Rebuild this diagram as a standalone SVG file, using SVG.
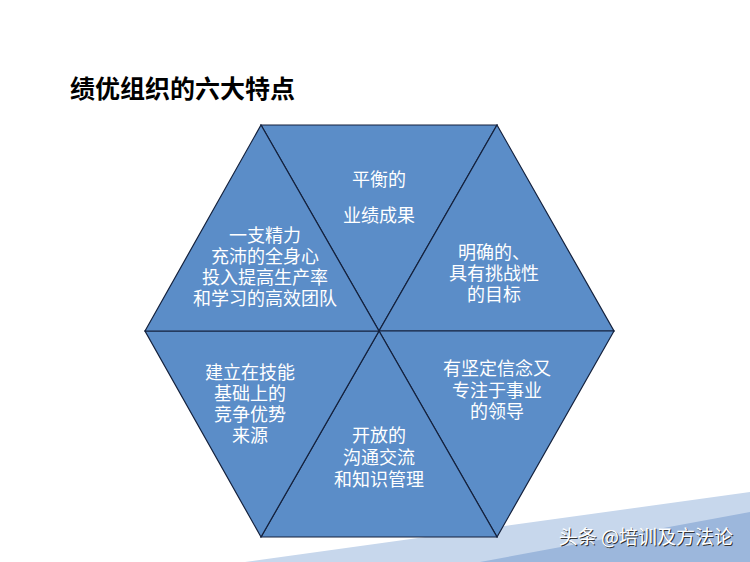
<svg xmlns="http://www.w3.org/2000/svg" width="750" height="562" viewBox="0 0 750 562">
<style>
.seg{fill:#5b8dc8;stroke:#14213d;stroke-width:1.2;stroke-linejoin:miter}
.lbl{font-family:"Microsoft YaHei","Noto Sans CJK SC","Noto Sans",sans-serif;font-size:18px;fill:#ffffff;text-anchor:middle}
.title{font-family:"Noto Sans CJK SC","Noto Sans",sans-serif;font-size:25px;font-weight:bold;fill:#000000}
.wm{font-family:"Noto Sans CJK SC","Noto Sans",sans-serif;font-size:19px;text-anchor:end}
</style>
<rect width="750" height="562" fill="#ffffff"/>
<g id="background-bands">
<polygon points="245,562 750,492 750,562" fill="#c7d7ec"/>
<polygon points="480,562 750,512 750,562" fill="#9cb7dc"/>
</g>
<text class="title" x="70" y="98">绩优组织的六大特点</text>
<g id="connectors"></g>
<g id="node-top">
<polygon class="seg" points="261,125 497,125 379,331"/>
<text class="lbl" x="379" y="186">平衡的</text>
<text class="lbl" x="379" y="222">业绩成果</text>
</g>
<g id="node-upper-right">
<polygon class="seg" points="497,125 614,331 379,331"/>
<text class="lbl"><tspan x="494" y="259">明确的、</tspan><tspan x="494" y="280">具有挑战性</tspan><tspan x="494" y="301">的目标</tspan></text>
</g>
<g id="node-lower-right">
<polygon class="seg" points="614,331 497,537 379,331"/>
<text class="lbl"><tspan x="497" y="375">有坚定信念又</tspan><tspan x="497" y="397">专注于事业</tspan><tspan x="497" y="418">的领导</tspan></text>
</g>
<g id="node-bottom">
<polygon class="seg" points="497,537 261,537 379,331"/>
<text class="lbl"><tspan x="379" y="442">开放的</tspan><tspan x="379" y="464">沟通交流</tspan><tspan x="379" y="486">和知识管理</tspan></text>
</g>
<g id="node-lower-left">
<polygon class="seg" points="261,537 145,331 379,331"/>
<text class="lbl"><tspan x="250" y="379">建立在技能</tspan><tspan x="250" y="400">基础上的</tspan><tspan x="250" y="421">竞争优势</tspan><tspan x="250" y="442">来源</tspan></text>
</g>
<g id="node-upper-left">
<polygon class="seg" points="145,331 261,125 379,331"/>
<text class="lbl"><tspan x="265" y="242">一支精力</tspan><tspan x="265" y="263">充沛的全身心</tspan><tspan x="265" y="284">投入提高生产率</tspan><tspan x="265" y="305">和学习的高效团队</tspan></text>
</g>
<g id="watermark">
<text class="wm" x="734" y="545" fill="#333333">头条 @培训及方法论</text>
<text class="wm" x="733" y="544" fill="#ffffff">头条 @培训及方法论</text>
</g>
</svg>
